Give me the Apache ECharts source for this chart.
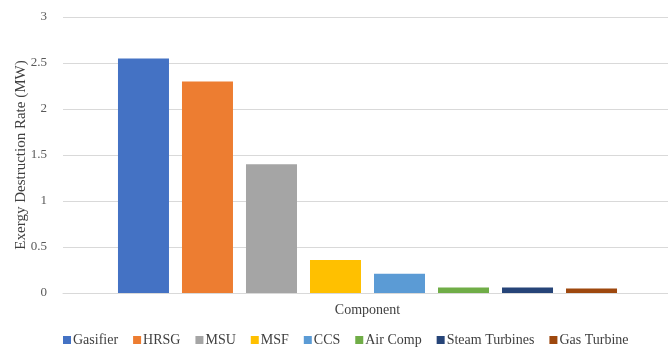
<!DOCTYPE html>
<html>
<head>
<meta charset="utf-8">
<script src="https://cdn.jsdelivr.net/npm/echarts@6/dist/echarts.min.js"></script>
<style>
  html, body { margin: 0; padding: 0; background: #fff; }
  #chart { width: 668px; height: 348px; }
</style>
</head>
<body>
<div id="chart"></div>
<script>
// Exergy destruction per plant component (MW)
const categories = ['Component'];
const components = ['Gasifier', 'HRSG', 'MSU', 'MSF', 'CCS', 'Air Comp', 'Steam Turbines', 'Gas Turbine'];
const destructionRates = [2.55, 2.30, 1.40, 0.36, 0.21, 0.06, 0.06, 0.05];
const colors = ['#4472C4', '#ED7D31', '#A5A5A5', '#FFC000', '#5B9BD5', '#70AD47', '#264478', '#9E480E'];

const font = '"Liberation Serif", "Times New Roman", serif';

const chart = echarts.init(document.getElementById('chart'));

const series = components.map((name, i) => ({
  name: name,
  type: 'bar',
  data: [destructionRates[i]],
  barWidth: 51,
  barGap: '25.5%',
  itemStyle: { color: colors[i] }
}));

chart.setOption({
  animation: false,
  color: colors,
  textStyle: { fontFamily: font },
  grid: { left: 63, right: -4, top: 17, bottom: 55, outerBoundsMode: 'none' },
  xAxis: {
    type: 'category',
    data: categories,
    name: 'Component',
    nameLocation: 'middle',
    nameGap: 10,
    nameTextStyle: { fontFamily: font, fontSize: 14, color: '#404040' },
    axisLine: { show: true, lineStyle: { color: '#D9D9D9', width: 1 } },
    axisTick: { show: false },
    axisLabel: { show: false }
  },
  yAxis: {
    type: 'value',
    min: 0,
    max: 3,
    interval: 0.5,
    name: 'Exergy Destruction Rate (MW)',
    nameLocation: 'middle',
    nameGap: 34,
    nameMoveOverlap: false,
    nameTextStyle: { fontFamily: font, fontSize: 15, color: '#404040' },
    axisLine: { show: false },
    axisTick: { show: false },
    axisLabel: { fontFamily: font, fontSize: 13, color: '#595959', margin: 16 },
    splitLine: { lineStyle: { color: '#D9D9D9', width: 1 } }
  },
  legend: {
    top: 333,
    left: 63,
    padding: 0,
    icon: 'rect',
    itemWidth: 8,
    itemHeight: 8,
    itemGap: 15,
    textStyle: { fontFamily: font, fontSize: 14, color: '#404040', padding: [0, 0, 0, -3] },
    data: components
  },
  series: series
});
</script>
</body>
</html>
